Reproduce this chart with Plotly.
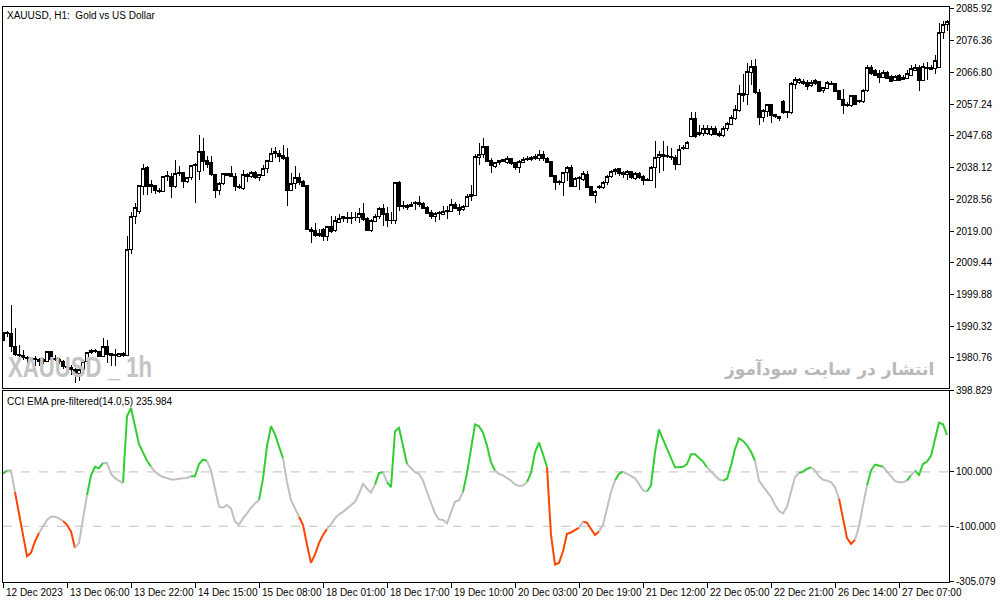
import plotly.graph_objects as go

# ---------------- data ----------------
OPEN = [1988.4,1988.0,1988.2,1984.2,1981.9,1981.4,1980.9,1980.5,1980.2,1980.4,
1979.6,1979.7,1982.7,1980.2,1980.2,1979.7,1978.2,1978.0,1977.2,1976.2,
1977.2,1979.7,1982.4,1983.0,1982.8,1981.2,1984.2,1982.0,1981.7,1981.2,
1981.5,1981.5,2013.4,2023.5,2024.8,2032.5,2038.0,2032.5,2032.7,2031.2,
2031.0,2035.5,2035.5,2032.5,2036.2,2036.5,2033.8,2035.0,2038.7,2037.0,
2043.0,2040.2,2039.5,2036.0,2031.2,2033.2,2036.2,2036.2,2035.5,2032.5,
2031.8,2036.0,2035.5,2036.5,2035.0,2035.8,2037.7,2040.0,2042.3,2042.5,
2041.7,2041.2,2031.3,2033.2,2035.2,2034.0,2032.7,2019.6,2019.1,2017.6,
2019.6,2017.3,2020.3,2019.1,2021.6,2022.8,2022.9,2023.2,2023.0,2023.0,
2024.4,2022.9,2019.1,2021.9,2023.3,2025.9,2024.4,2022.3,2022.3,2033.5,
2026.3,2026.1,2026.3,2027.3,2027.7,2027.3,2026.1,2024.6,2023.3,2024.3,
2023.9,2024.8,2024.9,2027.1,2026.1,2025.4,2026.4,2029.3,2029.8,2041.3,
2042.0,2044.5,2040.2,2038.5,2039.5,2040.0,2039.8,2040.8,2039.5,2038.0,
2039.8,2040.7,2040.5,2041.0,2041.0,2042.2,2040.8,2040.0,2035.7,2033.7,
2033.5,2036.5,2038.0,2032.5,2034.8,2034.5,2036.0,2032.5,2029.8,2032.2,
2032.2,2033.5,2035.5,2036.8,2037.8,2036.0,2036.0,2037.0,2034.8,2036.2,
2035.5,2034.5,2034.2,2038.0,2041.2,2041.5,2041.5,2041.5,2041.2,2039.0,
2043.8,2044.0,2047.5,2053.0,2048.7,2048.5,2048.5,2048.0,2049.8,2048.5,
2047.8,2049.8,2051.2,2053.0,2055.4,2059.9,2060.1,2066.9,2068.6,2060.7,
2053.2,2055.1,2057.1,2054.2,2053.4,2058.1,2054.7,2054.7,2063.2,2063.7,
2064.1,2063.9,2062.9,2064.4,2064.1,2061.4,2061.9,2063.6,2063.4,2061.4,
2058.6,2057.1,2056.9,2059.7,2058.0,2057.9,2061.4,2068.4,2067.4,2066.4,
2065.4,2066.7,2065.7,2064.4,2065.9,2064.7,2064.9,2065.9,2067.4,2068.4,
2064.4,2068.4,2068.4,2067.9,2068.4,2078.7,2081.3]

HIGH = [1988.6,1988.9,1996.7,1989.7,1984.7,1983.2,1981.2,1981.0,1981.2,1980.7,
1980.8,1982.9,1982.9,1981.7,1980.7,1980.0,1979.2,1978.5,1977.6,1978.0,
1980.0,1982.7,1983.4,1983.4,1983.0,1986.7,1986.2,1982.4,1983.4,1982.2,
1982.6,2017.6,2024.6,2027.3,2033.0,2039.2,2038.5,2034.5,2032.9,2032.0,
2035.7,2037.0,2036.5,2040.5,2038.5,2036.7,2035.2,2039.0,2039.5,2048.0,
2047.0,2041.5,2041.5,2036.2,2033.8,2036.5,2036.5,2038.5,2036.5,2033.3,
2037.5,2036.5,2037.2,2037.0,2036.2,2039.0,2040.5,2044.0,2044.2,2043.5,
2045.0,2044.0,2036.5,2038.5,2036.5,2034.5,2033.0,2020.3,2021.5,2019.6,
2020.0,2020.6,2023.4,2023.6,2024.1,2023.6,2024.8,2024.6,2024.6,2025.9,
2027.4,2023.2,2022.6,2024.1,2026.3,2027.1,2026.1,2024.6,2033.7,2034.0,
2028.1,2027.1,2027.6,2028.1,2029.5,2027.6,2026.6,2025.3,2024.6,2024.9,
2026.6,2026.6,2028.6,2027.6,2027.1,2026.8,2030.2,2032.8,2042.2,2045.5,
2047.0,2044.7,2041.0,2039.7,2040.5,2040.7,2041.5,2041.0,2039.7,2040.5,
2041.2,2041.5,2041.5,2042.2,2043.5,2043.0,2041.2,2040.2,2036.0,2034.5,
2036.8,2038.5,2039.0,2035.2,2035.5,2037.0,2037.0,2032.7,2031.5,2033.0,
2034.2,2036.0,2037.5,2038.0,2038.0,2037.0,2037.5,2037.2,2036.8,2036.8,
2036.0,2035.0,2038.5,2046.2,2043.2,2046.0,2044.5,2044.0,2042.0,2045.0,
2045.0,2046.0,2054.9,2054.9,2051.0,2051.0,2050.8,2050.5,2050.5,2049.2,
2050.5,2051.9,2053.9,2057.1,2063.1,2066.4,2069.7,2070.4,2070.9,2061.9,
2055.9,2057.4,2057.2,2054.4,2053.6,2058.4,2055.1,2063.9,2065.4,2065.1,
2064.7,2064.4,2064.4,2064.7,2064.3,2062.4,2064.1,2064.1,2063.6,2061.6,
2061.9,2057.9,2059.9,2059.9,2058.6,2061.9,2068.9,2069.1,2067.9,2067.4,
2067.4,2067.1,2065.9,2066.1,2066.2,2065.9,2067.4,2068.9,2069.4,2068.9,
2069.7,2069.9,2068.9,2071.9,2081.8,2082.3,2082.6]

LOW = [1985.8,1987.2,1982.7,1981.2,1980.7,1980.2,1979.2,1979.9,1978.2,1978.2,
1979.0,1979.4,1980.0,1979.7,1978.8,1977.5,1976.7,1975.5,1973.2,1973.8,
1976.8,1979.0,1982.0,1982.4,1981.0,1981.0,1979.2,1978.2,1978.2,1981.0,
1981.0,1981.2,2012.1,2021.0,2024.0,2030.0,2030.0,2030.5,2030.2,2030.5,
2030.8,2034.0,2029.0,2032.0,2035.5,2032.0,2033.5,2034.5,2027.5,2034.5,
2037.0,2038.0,2035.5,2029.0,2030.0,2033.0,2035.5,2035.2,2031.0,2031.8,
2031.5,2033.8,2035.0,2034.8,2034.0,2035.5,2036.5,2040.0,2041.0,2039.8,
2040.5,2026.5,2031.0,2031.8,2032.8,2032.2,2019.2,2015.3,2017.1,2017.3,
2015.9,2015.9,2018.4,2018.6,2021.3,2021.6,2021.4,2021.1,2022.1,2021.5,
2021.9,2018.9,2018.6,2021.6,2022.6,2020.6,2020.1,2021.1,2021.1,2024.9,
2025.6,2025.3,2026.1,2025.3,2026.3,2025.6,2024.1,2022.6,2021.6,2022.3,
2023.8,2022.6,2024.6,2025.6,2023.9,2025.1,2026.1,2028.1,2029.5,2039.0,
2041.0,2039.9,2036.5,2038.0,2039.0,2039.8,2039.2,2039.0,2037.5,2036.5,
2039.5,2040.0,2040.0,2040.5,2040.2,2040.0,2039.5,2035.2,2031.5,2033.0,
2029.5,2034.0,2032.2,2032.2,2031.5,2034.0,2032.0,2029.5,2027.3,2031.8,
2031.8,2033.0,2035.0,2036.0,2035.7,2035.0,2034.5,2034.8,2034.5,2034.8,
2033.0,2034.0,2034.0,2032.0,2036.5,2037.0,2041.0,2040.5,2037.5,2038.8,
2043.5,2043.8,2047.2,2047.0,2047.5,2047.5,2047.8,2047.5,2047.8,2047.2,
2047.2,2049.2,2050.8,2052.5,2054.9,2057.9,2057.1,2062.9,2060.4,2050.8,
2051.9,2053.5,2051.5,2053.0,2052.3,2054.4,2053.0,2054.4,2061.9,2063.4,
2063.1,2061.4,2062.4,2062.9,2060.9,2060.7,2061.7,2062.9,2060.9,2058.4,
2054.4,2056.4,2056.4,2056.9,2057.6,2057.6,2060.9,2065.9,2065.6,2063.7,
2065.1,2064.7,2063.9,2064.1,2064.1,2064.4,2064.7,2065.7,2067.1,2061.1,
2064.1,2064.4,2067.4,2066.4,2068.4,2076.9,2079.4]

CLOSE = [1986.0,1988.5,1984.2,1981.7,1981.4,1981.0,1980.5,1980.2,1980.7,1979.6,
1980.2,1982.7,1980.2,1980.7,1979.7,1978.2,1978.0,1977.2,1976.2,1977.2,
1979.7,1982.4,1983.0,1982.6,1981.2,1984.2,1981.7,1981.5,1981.6,1982.0,
1982.2,2013.4,2023.5,2026.0,2032.7,2037.8,2032.5,2032.9,2031.2,2030.9,
2035.5,2035.8,2032.5,2036.2,2036.5,2033.8,2035.0,2038.7,2039.0,2043.0,
2040.0,2039.0,2036.0,2031.2,2033.2,2036.2,2035.8,2035.5,2032.5,2032.2,
2036.0,2035.5,2036.6,2035.0,2036.0,2037.8,2040.2,2042.5,2043.0,2041.5,
2040.8,2031.3,2033.3,2035.2,2033.5,2032.5,2019.4,2018.8,2017.6,2018.4,
2017.3,2020.3,2018.8,2022.1,2022.9,2023.3,2023.2,2022.9,2023.1,2024.4,
2022.6,2019.1,2022.1,2023.3,2025.9,2024.1,2022.1,2022.1,2033.5,2026.3,
2026.6,2026.6,2027.1,2027.7,2026.9,2025.9,2024.3,2023.3,2024.3,2024.6,
2024.8,2025.1,2027.1,2025.9,2025.3,2026.4,2029.3,2030.0,2041.5,2042.0,
2044.5,2040.0,2038.8,2039.5,2040.2,2040.5,2040.8,2039.2,2038.0,2040.0,
2040.7,2041.0,2041.3,2041.5,2042.2,2040.8,2039.8,2035.5,2033.5,2034.0,
2036.5,2038.0,2032.5,2034.8,2035.0,2036.2,2032.2,2029.8,2031.0,2032.5,
2033.7,2035.5,2037.0,2037.5,2036.2,2036.5,2037.0,2035.0,2036.2,2035.2,
2034.2,2034.2,2038.0,2041.2,2042.2,2042.2,2041.7,2041.2,2039.0,2043.7,
2044.2,2045.8,2053.0,2047.5,2048.2,2050.0,2050.0,2049.8,2048.2,2047.8,
2050.0,2051.5,2053.2,2055.7,2060.4,2060.4,2067.1,2068.6,2060.7,2053.2,
2055.4,2057.1,2053.9,2053.5,2053.0,2054.7,2054.9,2063.6,2064.7,2064.7,
2063.6,2062.4,2063.9,2063.4,2061.1,2062.1,2063.9,2063.2,2061.1,2058.6,
2056.7,2056.7,2059.7,2057.2,2058.2,2061.4,2068.4,2066.4,2065.9,2065.4,
2066.9,2065.1,2064.1,2065.7,2064.4,2065.4,2066.4,2067.9,2068.4,2064.4,
2068.7,2067.9,2067.7,2070.4,2078.7,2081.3,2082.1]

CCI = [93,105,105,26,-59,-132,-210,-198,-156,-125,
-101,-77,-65,-65,-71,-81,-95,-119,-180,-162,
-71,14,87,119,113,133,133,93,77,68,
59,305,335,262,202,172,141,119,101,89,
81,77,72,72,75,77,78,84,84,129,
145,141,105,38,-28,-32,-22,-35,-83,-95,
-71,-53,-32,-16,-4,75,196,268,238,190,
150,62,-4,-35,-65,-95,-168,-235,-204,-162,
-132,-110,-93,-71,-56,-47,-35,-25,-10,20,
56,38,24,53,96,99,62,44,250,262,
196,129,113,99,93,68,26,-16,-53,-75,
-77,-89,-47,-10,-4,26,96,184,275,268,
244,196,135,105,93,87,78,68,54,48,
50,62,96,172,208,165,117,-132,-241,-235,
-192,-128,-123,-113,-105,-83,-87,-110,-132,-119,
-95,-35,26,68,93,101,93,84,77,56,
32,28,50,172,256,220,184,147,117,117,
119,129,165,165,153,138,117,101,87,72,
68,75,123,184,224,214,198,174,141,68,
47,28,8,-22,-44,-53,-28,26,81,96,
101,111,117,105,84,71,68,62,44,2,
-71,-144,-165,-150,-101,-22,50,105,127,123,
119,101,84,66,62,62,68,87,105,89,
129,138,159,220,281,275,236]
CCI_LAST = 235.984

# colour state of the line segment that ends at each bar: g=up, r=down, n=neutral
CCI_STATE_RUNS = [("g",2),("n",2),("r",6),("n",6),("r",3),("n",3),("g",4),("n",5),
("g",7),("n",10),("g",4),("n",13),("g",6),("n",4),("r",7),("n",12),("g",2),("n",1),
("g",5),("n",14),("g",8),("n",8),("g",5),("r",8),("n",1),("r",4),("n",4),("g",2),
("n",6),("g",15),("n",4),("g",8),("n",11),("g",3),("n",7),("r",4),("n",3),("g",4),
("n",6),("g",1),("n",1),("g",8)]

TICK_LABELS = ["12 Dec 2023","13 Dec 06:00","13 Dec 22:00","14 Dec 15:00","15 Dec 08:00",
"18 Dec 01:00","18 Dec 17:00","19 Dec 10:00","20 Dec 03:00","20 Dec 19:00",
"21 Dec 12:00","22 Dec 05:00","22 Dec 21:00","26 Dec 14:00","27 Dec 07:00"]
TICK_BARS = [0,16,32,48,64,80,96,112,128,144,160,176,192,208,224]

PRICE_TICKS = [2085.92,2076.36,2066.80,2057.24,2047.68,2038.12,2028.56,2019.00,
2009.44,1999.88,1990.32,1980.76]
CCI_TICKS = [398.829,100.0,-100.0,-305.079]
CCI_LEVELS = [100.0,-100.0]

# ---------------- figure ----------------
W, H = 1003, 603
ML, MR, MT, MB = 3, 54, 2, 21
PW, PH = W - ML - MR, H - MT - MB

def px(xp):
    return (xp - ML) / PW

def py(yp):
    return (H - MB - yp) / PH

state = "".join(s * n for s, n in CCI_STATE_RUNS)
bars = list(range(len(CLOSE)))

fig = go.Figure()
fig.add_trace(go.Candlestick(
    x=bars, open=OPEN, high=HIGH, low=LOW, close=CLOSE,
    increasing=dict(line=dict(color="black", width=1), fillcolor="white"),
    decreasing=dict(line=dict(color="black", width=1), fillcolor="black"),
    whiskerwidth=0, xaxis="x", yaxis="y", showlegend=False, hoverinfo="skip"))

colors = {"g": "#32cd32", "r": "#ff4500", "n": "#c0c0c0"}
for key, col in colors.items():
    xs, ys = [], []
    i = 1
    n = len(CCI)
    while i < n:
        if state[i] == key:
            j = i
            while j < n and state[j] == key:
                j += 1
            xs.extend(bars[i - 1:j] + [None])
            ys.extend(CCI[i - 1:j] + [None])
            i = j
        else:
            i += 1
    fig.add_trace(go.Scatter(x=xs, y=ys, mode="lines", line=dict(color=col, width=2),
                             xaxis="x2", yaxis="y2", showlegend=False, hoverinfo="skip",
                             connectgaps=False))

top_bottom = py(386)
bot_top = py(389)
font = dict(family="Liberation Sans", size=10, color="black")

fig.update_layout(
    width=W, height=H, margin=dict(l=ML, r=MR, t=MT, b=MB),
    paper_bgcolor="white", plot_bgcolor="white", showlegend=False,
    font=font, boxgap=0.2,
    xaxis=dict(domain=[0, 1], range=[0, 236.5], anchor="y", showticklabels=False,
               showline=True, mirror=True, linecolor="black", linewidth=1,
               showgrid=False, zeroline=False, ticks="", rangeslider=dict(visible=False)),
    yaxis=dict(domain=[top_bottom, 1], range=[1971.8, 2086.5], side="right", anchor="x",
               tickvals=PRICE_TICKS, ticktext=[f"{v:.2f}" for v in PRICE_TICKS],
               ticks="outside", ticklen=4, tickcolor="black", showline=True, mirror=True,
               linecolor="black", linewidth=1, showgrid=False, zeroline=False, tickfont=font),
    xaxis2=dict(domain=[0, 1], range=[0, 236.5], anchor="y2", matches="x",
                tickvals=TICK_BARS, showticklabels=False, ticks="outside", ticklen=5,
                tickcolor="black", showline=True, mirror=True, linecolor="black",
                linewidth=1, showgrid=False, zeroline=False),
    yaxis2=dict(domain=[0, bot_top], range=[-305.3, 399.05], side="right", anchor="x2",
                tickvals=CCI_TICKS, ticktext=[f"{v:.3f}" for v in CCI_TICKS],
                ticks="outside", ticklen=4, tickcolor="black", showline=True, mirror=True,
                linecolor="black", linewidth=1, showgrid=False, zeroline=False, tickfont=font),
)

for lv in CCI_LEVELS:
    fig.add_shape(type="line", xref="paper", x0=0, x1=1, yref="y2", y0=lv, y1=lv,
                  line=dict(color="#c0c0c0", width=1, dash="dash"), layer="below")

ann = []
for b, t in zip(TICK_BARS, TICK_LABELS):
    ann.append(dict(x=b, xref="x2", y=py(585), yref="paper", text=t, showarrow=False,
                    xanchor="left", yanchor="top", xshift=1, font=font))
ann.append(dict(x=px(5), y=py(3), xref="paper", yref="paper",
                text="XAUUSD, H1:  Gold vs US Dollar", showarrow=False,
                xanchor="left", yanchor="top", font=font))
ann.append(dict(x=px(5), y=py(392), xref="paper", yref="paper",
                text=f"CCI EMA pre-filtered(14.0,5) {CCI_LAST:.3f}", showarrow=False,
                xanchor="left", yanchor="top", font=font))
ann.append(dict(x=px(6), y=py(365), xref="paper", yref="paper", text="<b>XAUUSD _ 1h</b>",
                showarrow=False, xanchor="left", yanchor="middle", align="left",
                font=dict(family="Liberation Sans", size=30, color="#c4c4c4")))
ann.append(dict(x=px(936), y=py(367), xref="paper", yref="paper",
                text="<b>انتشار در سایت سودآموز</b>", showarrow=False,
                xanchor="right", yanchor="middle",
                font=dict(family="DejaVu Sans", size=17, color="#b8b8b8")))
fig.update_layout(annotations=ann)

post = ("document.body.style.margin='0px';"
        "var s=document.createElement('style');"
        "s.innerHTML='.boxes path{shape-rendering:crispEdges;}';"
        "document.head.appendChild(s);"
        "document.querySelectorAll('text.annotation-text').forEach(function(t){"
        "if(t.textContent.indexOf('XAUUSD _')===0){"
        "t.setAttribute('textLength','144');"
        "t.setAttribute('lengthAdjust','spacingAndGlyphs');}});")
fig.write_html("out.html", post_script=post, config={"displayModeBar": False})
